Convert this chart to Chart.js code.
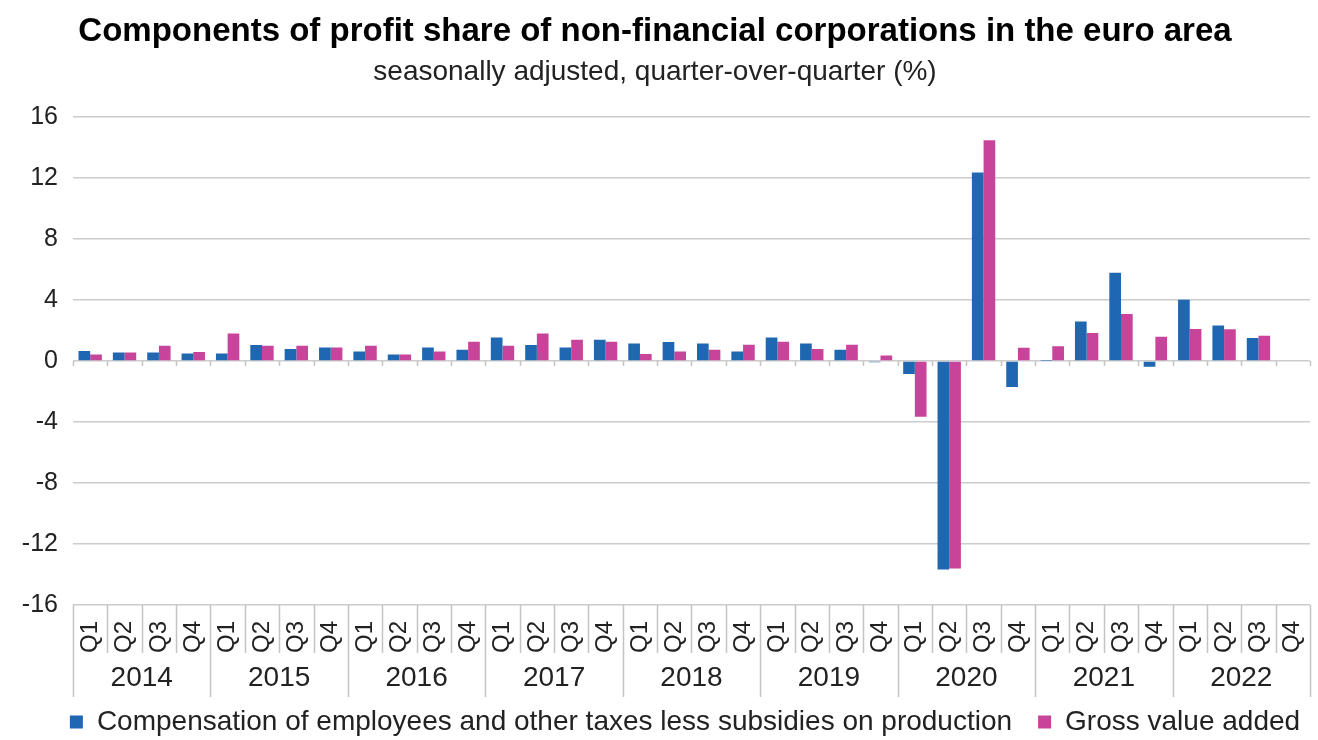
<!DOCTYPE html>
<html lang="en">
<head>
<meta charset="UTF-8">
<title>Components of profit share of non-financial corporations</title>
<script src="https://cdn.jsdelivr.net/npm/chart.js"></script>
<style>
body { margin: 0; background: #fff; }
#myChart { display: block; }
</style>
</head>
<body>

<canvas id="myChart" width="1318" height="740"></canvas>

<script>
// data
const years = ['2014', '2015', '2016', '2017', '2018', '2019', '2020', '2021', '2022'];
const quarters = ['Q1', 'Q2', 'Q3', 'Q4'];
const compensation = [
    0.66, 0.57, 0.57, 0.50,
    0.50, 1.05, 0.80, 0.90,
    0.63, 0.44, 0.90, 0.74,
    1.55, 1.05, 0.90, 1.40,
    1.16, 1.25, 1.16, 0.63,
    1.55, 1.16, 0.74, -0.07,
    -0.85, -13.67, 12.37, -1.70,
    0.02, 2.59, 5.80, -0.37,
    4.02, 2.33, 1.52, null
];
const grossValueAdded = [
    0.44, 0.57, 1.00, 0.60,
    1.81, 1.00, 1.00, 0.90,
    1.00, 0.44, 0.63, 1.27,
    1.00, 1.81, 1.40, 1.27,
    0.46, 0.63, 0.74, 1.07,
    1.27, 0.80, 1.07, 0.37,
    -3.65, -13.60, 14.48, 0.87,
    0.98, 1.85, 3.09, 1.60,
    2.10, 2.09, 1.67, null
];
const yMin = -16, yMax = 16, yStep = 4;

const labels = [];
years.forEach(y => quarters.forEach(q => labels.push(y + ' ' + q)));

const FONT = "'Liberation Sans', Arial, sans-serif";

// year row + separators under the quarter labels
const yearAxis = {
    id: 'yearAxis',
    afterDraw(chart) {
        const x = chart.scales.x, y = chart.scales.y, ctx = chart.ctx;
        const step = x.getPixelForValue(1) - x.getPixelForValue(0);
        const top = y.getPixelForValue(yMin);
        const zero = y.getPixelForValue(0);
        ctx.save();
        ctx.strokeStyle = '#c4c4c4';
        ctx.lineWidth = 1.5;
        for (let i = 0; i <= labels.length; i++) {
            const px = Math.round(x.getPixelForValue(0) - step / 2 + i * step) + 0.5;
            const len = (i % 4 === 0) ? 92 : 48;
            ctx.beginPath();
            ctx.moveTo(px, top);
            ctx.lineTo(px, top + len);
            // small tick marks on the zero line
            ctx.moveTo(px, zero);
            ctx.lineTo(px, zero + 5);
            ctx.stroke();
        }
        ctx.fillStyle = '#222';
        ctx.font = '28px ' + FONT;
        ctx.textAlign = 'center';
        ctx.textBaseline = 'middle';
        years.forEach((yr, k) => {
            const cx = (x.getPixelForValue(k * 4) + x.getPixelForValue(k * 4 + 3)) / 2;
            ctx.fillText(yr, cx, top + 73);
        });
        ctx.restore();
    }
};

// legend sits a bit right of centre and lower in the original
const legendShift = {
    id: 'legendShift',
    afterLayout(chart) {
        const lg = chart.legend;
        lg.left += 30; lg.right += 30;
        lg.top += 6; lg.bottom += 6;
    }
};

const ctx = document.getElementById('myChart').getContext('2d');
const myChart = new Chart(ctx, {
    type: 'bar',
    data: {
        labels: labels,
        datasets: [{
            label: 'Compensation of employees and other taxes less subsidies on production',
            data: compensation,
            backgroundColor: '#1F67B1'
        }, {
            label: 'Gross value added',
            data: grossValueAdded,
            backgroundColor: '#C8449A'
        }]
    },
    plugins: [yearAxis, legendShift],
    options: {
        responsive: false,
        animation: false,
        layout: { padding: { left: 0, right: 8, bottom: 0, top: 0 } },
        datasets: {
            bar: { barPercentage: 1.0, categoryPercentage: 0.68 }
        },
        plugins: {
            title: {
                display: true,
                text: 'Components of profit share of non-financial corporations in the euro area',
                color: '#000',
                font: { family: FONT, size: 33, weight: 'bold' },
                padding: { top: 12, bottom: 0 }
            },
            subtitle: {
                display: true,
                text: 'seasonally adjusted, quarter-over-quarter (%)',
                color: '#222',
                font: { family: FONT, size: 28 },
                padding: { top: 4, bottom: 28 }
            },
            legend: {
                position: 'bottom',
                labels: {
                    color: '#222',
                    font: { family: FONT, size: 28 },
                    boxWidth: 13,
                    boxHeight: 13,
                    padding: 26
                }
            },
            tooltip: { enabled: false }
        },
        scales: {
            x: {
                grid: { display: false },
                border: { display: false },
                ticks: {
                    color: '#222',
                    font: { family: FONT, size: 24 },
                    minRotation: 90,
                    maxRotation: 90,
                    autoSkip: false,
                    padding: 8,
                    callback: function (v, i) { return quarters[i % 4]; }
                },
                afterFit: s => {
                    s.height = 71;
                    s.paddingLeft = 0;
                    s.paddingRight = 0;
                }
            },
            y: {
                min: yMin,
                max: yMax,
                border: { display: false },
                grid: {
                    color: '#cccccc',
                    lineWidth: 1.5,
                    drawTicks: false
                },
                ticks: {
                    stepSize: yStep,
                    color: '#222',
                    font: { family: FONT, size: 25 },
                    padding: 15
                },
                afterFit: s => { s.width = 73; }
            }
        }
    }
});
</script>

</body>
</html>
